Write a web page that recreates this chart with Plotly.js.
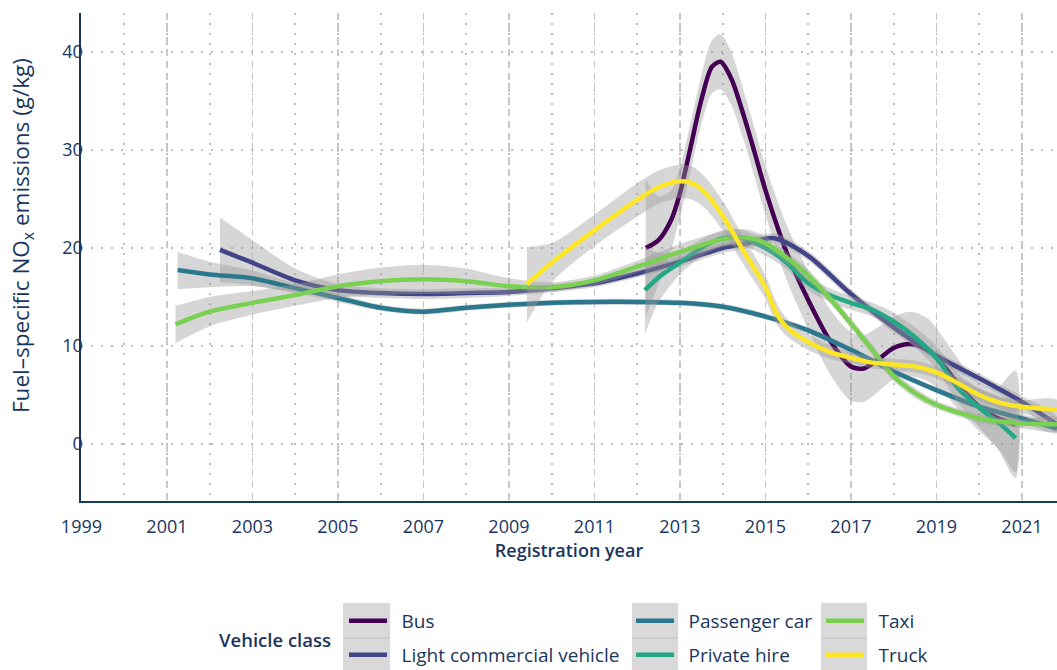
<!DOCTYPE html>
<html>
<head>
<meta charset="utf-8">
<script src="https://cdn.plot.ly/plotly-3.0.1.min.js"></script>
<style>html,body{margin:0;padding:0;background:#fff;}#chart{width:1057px;height:670px;}</style>
</head>
<body>
<div id="chart"></div>
<script>
// ---- Data ----
const seriesNames = ["Bus", "Light commercial vehicle", "Passenger car", "Private hire", "Taxi", "Truck"];
const seriesColors = ["#440154", "#414487", "#2A788E", "#22A884", "#7AD151", "#FDE725"];

const busX  = [2012.2, 2012.5, 2012.8, 2013.0, 2013.25, 2013.5, 2013.75, 2013.95, 2014.2, 2014.5, 2014.75, 2015.0, 2015.5, 2016.0, 2016.5, 2017.0, 2017.3, 2017.6, 2018.0, 2018.4, 2018.8, 2019.2, 2019.6, 2020.0, 2020.4, 2020.85];
const busY  = [20.0, 20.8, 22.9, 25.6, 30.3, 35.1, 38.5, 39.0, 37.3, 33.4, 29.7, 25.9, 19.5, 14.7, 10.6, 7.9, 7.7, 8.5, 9.8, 10.2, 9.6, 7.8, 5.6, 3.8, 2.7, 2.0];
const busLo = [13.0, 16.3, 19.9, 23.1, 27.8, 32.6, 35.8, 36.2, 34.6, 30.9, 27.2, 23.4, 16.7, 11.7, 7.2, 4.4, 4.3, 5.2, 6.6, 6.9, 6.4, 5.0, 3.1, 1.3, -0.3, -3.5];
const busHi = [27.0, 25.3, 25.9, 28.1, 32.8, 37.6, 41.2, 41.8, 40.0, 35.9, 32.2, 28.4, 22.3, 17.7, 13.8, 11.4, 11.1, 11.8, 13.0, 13.5, 12.8, 10.6, 8.1, 6.3, 5.7, 7.5];

const lcvX  = [2002.24, 2003, 2004, 2005, 2006, 2007, 2008, 2009, 2010, 2011, 2012, 2013, 2014, 2014.5, 2015.2, 2016, 2017, 2018, 2019, 2020, 2021, 2021.82];
const lcvY  = [19.8, 18.5, 16.7, 15.7, 15.4, 15.3, 15.4, 15.5, 15.9, 16.4, 17.4, 18.6, 20.0, 20.4, 21.0, 19.2, 15.3, 11.9, 9.0, 6.7, 4.3, 2.0];
const lcvLo = [16.5, 16.2, 15.5, 15.1, 14.9, 14.8, 14.9, 15.1, 15.5, 16.0, 17.0, 18.1, 19.5, 19.9, 20.5, 18.7, 14.8, 11.4, 8.5, 6.2, 3.7, 1.2];
const lcvHi = [23.1, 20.8, 17.9, 16.3, 15.9, 15.8, 15.9, 15.9, 16.3, 16.8, 17.8, 19.1, 20.5, 20.9, 21.5, 19.7, 15.8, 12.4, 9.5, 7.2, 4.9, 2.8];

const carX  = [2001.25, 2002, 2003, 2004, 2005, 2006, 2007, 2008, 2009, 2010, 2011, 2012, 2013, 2014, 2015, 2016, 2017, 2018, 2019, 2020, 2021, 2021.82];
const carY  = [17.75, 17.3, 16.9, 15.9, 14.9, 13.9, 13.5, 13.9, 14.2, 14.4, 14.5, 14.5, 14.4, 14.0, 13.0, 11.6, 9.6, 7.4, 5.5, 3.8, 2.6, 1.6];
const carLo = [15.8, 16.0, 16.1, 15.4, 14.5, 13.6, 13.2, 13.6, 13.9, 14.1, 14.2, 14.2, 14.1, 13.7, 12.7, 11.3, 9.3, 7.1, 5.2, 3.5, 2.2, 1.1];
const carHi = [19.6, 18.6, 17.7, 16.4, 15.3, 14.2, 13.8, 14.2, 14.5, 14.7, 14.8, 14.8, 14.7, 14.3, 13.3, 11.9, 9.9, 7.7, 5.8, 4.1, 3.0, 2.1];

const phX  = [2012.18, 2012.5, 2013, 2013.5, 2014, 2014.4, 2015, 2015.5, 2016, 2016.5, 2017, 2017.5, 2018, 2018.5, 2019, 2019.5, 2020, 2020.5, 2020.85];
const phY  = [15.7, 17.0, 18.5, 20.0, 21.0, 21.1, 20.0, 18.5, 16.4, 15.2, 14.4, 13.7, 12.5, 10.9, 8.8, 5.7, 3.7, 2.0, 0.6];
const phLo = [11.2, 14.5, 17.3, 19.1, 20.2, 20.3, 19.2, 17.8, 15.7, 14.5, 13.7, 13.0, 11.6, 9.9, 7.6, 4.2, 1.7, -0.8, -2.9];
const phHi = [20.2, 19.5, 19.7, 20.9, 21.8, 21.9, 20.8, 19.2, 17.1, 15.9, 15.1, 14.4, 13.4, 11.9, 10.0, 7.2, 5.7, 4.8, 4.1];

const taxiX  = [2001.2, 2002, 2003, 2004, 2005, 2006, 2007, 2008, 2009, 2010, 2011, 2012, 2013, 2014, 2014.5, 2015, 2015.5, 2016, 2016.5, 2017, 2017.5, 2018, 2018.5, 2019, 2020, 2021, 2021.82];
const taxiY  = [12.2, 13.5, 14.4, 15.2, 16.1, 16.6, 16.8, 16.6, 16.1, 16.0, 16.7, 18.1, 19.6, 20.9, 21.1, 20.5, 19.0, 17.2, 14.9, 12.3, 9.6, 6.9, 5.2, 4.0, 2.6, 2.1, 2.0];
const taxiLo = [10.3, 12.0, 13.2, 14.1, 14.9, 15.2, 15.3, 15.3, 15.3, 15.5, 16.2, 17.5, 18.8, 20.1, 20.3, 19.8, 18.4, 16.6, 14.4, 11.8, 9.1, 6.4, 4.7, 3.6, 2.2, 1.6, 1.3];
const taxiHi = [14.1, 15.0, 15.6, 16.3, 17.3, 18.0, 18.3, 17.9, 16.9, 16.5, 17.2, 18.7, 20.4, 21.7, 21.9, 21.2, 19.6, 17.8, 15.4, 12.8, 10.1, 7.4, 5.7, 4.4, 3.0, 2.6, 2.7];

const truckX  = [2009.42, 2010, 2011, 2012, 2012.5, 2013, 2013.3, 2013.6, 2014, 2014.5, 2015, 2015.25, 2015.5, 2016, 2016.5, 2017, 2017.5, 2018, 2018.5, 2019, 2019.5, 2020, 2020.5, 2021, 2021.82];
const truckY  = [16.3, 18.5, 21.8, 24.9, 26.2, 26.8, 26.6, 25.6, 23.3, 19.6, 16.0, 13.4, 11.9, 10.4, 9.4, 8.8, 8.3, 8.1, 7.9, 7.3, 6.2, 5.0, 4.2, 3.8, 3.5];
const truckLo = [12.4, 16.5, 20.2, 23.2, 24.5, 25.1, 24.9, 24.0, 21.8, 18.2, 14.8, 12.3, 11.0, 9.6, 8.7, 8.2, 7.7, 7.5, 7.3, 6.7, 5.6, 4.4, 3.6, 3.1, 2.5];
const truckHi = [20.1, 20.5, 23.4, 26.6, 27.9, 28.5, 28.3, 27.2, 24.8, 21.0, 17.2, 14.5, 12.8, 11.2, 10.1, 9.4, 8.9, 8.7, 8.5, 7.9, 6.8, 5.6, 4.8, 4.5, 4.5];

const xTickYears = [1999, 2001, 2003, 2005, 2007, 2009, 2011, 2013, 2015, 2017, 2019, 2021];
const yTickValues = [0, 10, 20, 30, 40];

// ---- Build traces ----
const seriesData = [
  [busX, busY, busLo, busHi],
  [lcvX, lcvY, lcvLo, lcvHi],
  [carX, carY, carLo, carHi],
  [phX, phY, phLo, phHi],
  [taxiX, taxiY, taxiLo, taxiHi],
  [truckX, truckY, truckLo, truckHi]
];
const legendIds = ["legend", "legend2", "legend3", "legend4", "legend5", "legend6"];
const traces = [];
seriesData.forEach(function (s, i) {
  const xs = s[0], ys = s[1], lo = s[2], hi = s[3];
  traces.push({
    type: "scatter", mode: "lines",
    x: xs.concat(xs.slice().reverse()),
    y: hi.concat(lo.slice().reverse()),
    fill: "toself", fillcolor: "rgba(153,153,153,0.4)",
    line: {width: 0, shape: "spline", smoothing: 0.8, color: "rgba(0,0,0,0)"},
    showlegend: false, hoverinfo: "skip"
  });
  traces.push({
    type: "scatter", mode: "lines",
    x: xs, y: ys, name: "\u2002" + seriesNames[i],
    line: {color: seriesColors[i], width: 4.5, shape: "spline", smoothing: 0.8},
    legend: legendIds[i], hoverinfo: "skip"
  });
});

// ---- Layout ----
const W = 1057, H = 670;
const ML = 81, MR = 0, MT = 13, MB = 169;
const textColor = "#1a3660";
const fontFam = "'Open Sans', Lato, sans-serif";

const legCols = [344, 631, 821];
const legRows = [621, 655];
const legends = {};
legendIds.forEach(function (id, i) {
  const col = Math.floor(i / 2), row = i % 2;
  legends[id] = {
    xref: "container", yref: "container",
    x: legCols[col] / W, y: 1 - legRows[row] / H,
    xanchor: "left", yanchor: "middle",
    bgcolor: "rgba(0,0,0,0)", borderwidth: 0,
    itemwidth: 38,
    font: {family: fontFam, size: 19, color: textColor},
    itemclick: false, itemdoubleclick: false
  };
});

const pw = W - ML - MR, ph = H - MT - MB;
function px2x(p) { return (p - ML) / pw; }
function py2y(p) { return (H - MB - p) / ph; }
const keyBoxes = [[343, 390], [632, 678], [821, 867]];
const shapes = [];
keyBoxes.forEach(function (b) {
  shapes.push({type: "rect", xref: "paper", yref: "paper", layer: "below",
    x0: px2x(b[0]), x1: px2x(b[1]), y0: py2y(603), y1: py2y(672),
    fillcolor: "#d9d9d9", line: {width: 0}});
  shapes.push({type: "line", xref: "paper", yref: "paper", layer: "below",
    x0: px2x(b[0]), x1: px2x(b[1]), y0: py2y(638), y1: py2y(638),
    line: {color: "#c2c2c2", width: 1}});
});

const layout = Object.assign({
  width: W, height: H,
  margin: {l: ML, r: MR, t: MT, b: MB, pad: 0, autoexpand: false},
  paper_bgcolor: "#ffffff", plot_bgcolor: "#ffffff",
  font: {family: fontFam, color: textColor, size: 18},
  showlegend: true,
  xaxis: {
    range: [1998.99, 2021.82], automargin: false,
    tickmode: "array", tickvals: xTickYears, ticktext: xTickYears.map(String),
    ticks: "", ticklen: 0, ticklabelstandoff: 8,
    showgrid: true, gridcolor: "#c8c8c8", gridwidth: 1.6, griddash: "7px,5px",
    minor: {tickmode: "linear", tick0: 1999, dtick: 1, showgrid: true, gridcolor: "#bdbdbd", gridwidth: 1.8, griddash: "2px,8px", ticks: ""},
    zeroline: false,
    showline: true, linecolor: "#17375e", linewidth: 2,
    tickfont: {family: fontFam, size: 18, color: textColor},
    title: {text: "Registration year", standoff: 6, font: {family: fontFam, size: 18, color: textColor, weight: 600}},
    fixedrange: true
  },
  yaxis: {
    range: [-5.82, 43.98], automargin: false,
    tickmode: "array", tickvals: yTickValues,
    ticks: "", ticklen: 0, ticklabelstandoff: -7,
    showgrid: true, gridcolor: "#bdbdbd", gridwidth: 1.8, griddash: "2px,8px",
    zeroline: false,
    showline: true, linecolor: "#17375e", linewidth: 1.6,
    tickfont: {family: fontFam, size: 18, color: textColor},
    fixedrange: true
  },
  shapes: shapes,
  annotations: [{
    text: "Vehicle class", xref: "paper", yref: "paper",
    x: px2x(275), y: py2y(639), xanchor: "center", yanchor: "middle",
    showarrow: false, font: {family: fontFam, size: 18.5, color: textColor, weight: 600}
  }, {
    text: "Fuel–specific NO<sub>x</sub> emissions (g/kg)", xref: "paper", yref: "paper",
    x: px2x(22), y: py2y(236), xanchor: "center", yanchor: "middle", textangle: -90,
    showarrow: false, font: {family: fontFam, size: 22.5, color: textColor}
  }]
}, legends);

Plotly.newPlot("chart", traces, layout, {staticPlot: true, displayModeBar: false});
</script>
</body>
</html>
